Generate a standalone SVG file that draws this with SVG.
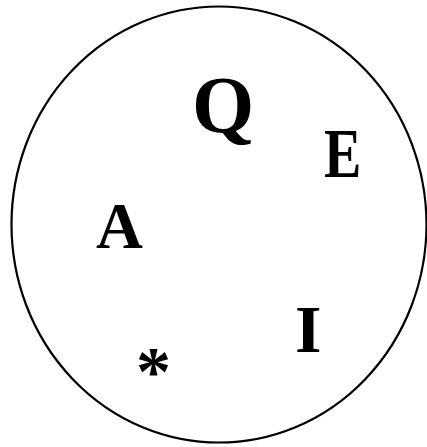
<svg xmlns="http://www.w3.org/2000/svg" width="427" height="447" viewBox="0 0 427 447">
<style>
.l{font-family:"Liberation Serif","Times New Roman",serif;font-weight:bold;fill:#000}
</style>
<rect width="427" height="447" fill="#fff"/>
<ellipse id="circle" cx="219" cy="224.5" rx="207.5" ry="218" fill="none" stroke="#000" stroke-width="2.2"/>
<g id="Q"><text class="l" x="192" y="132" font-size="80">Q</text></g>
<g id="E"><text class="l" transform="translate(324,177) scale(0.8,1)" font-size="70">E</text></g>
<g id="A"><text class="l" x="96" y="248" font-size="65">A</text></g>
<g id="I"><text class="l" x="295" y="352" font-size="68">I</text></g>
<g id="star"><text class="l" x="136" y="395" font-size="70">*</text></g>
</svg>
